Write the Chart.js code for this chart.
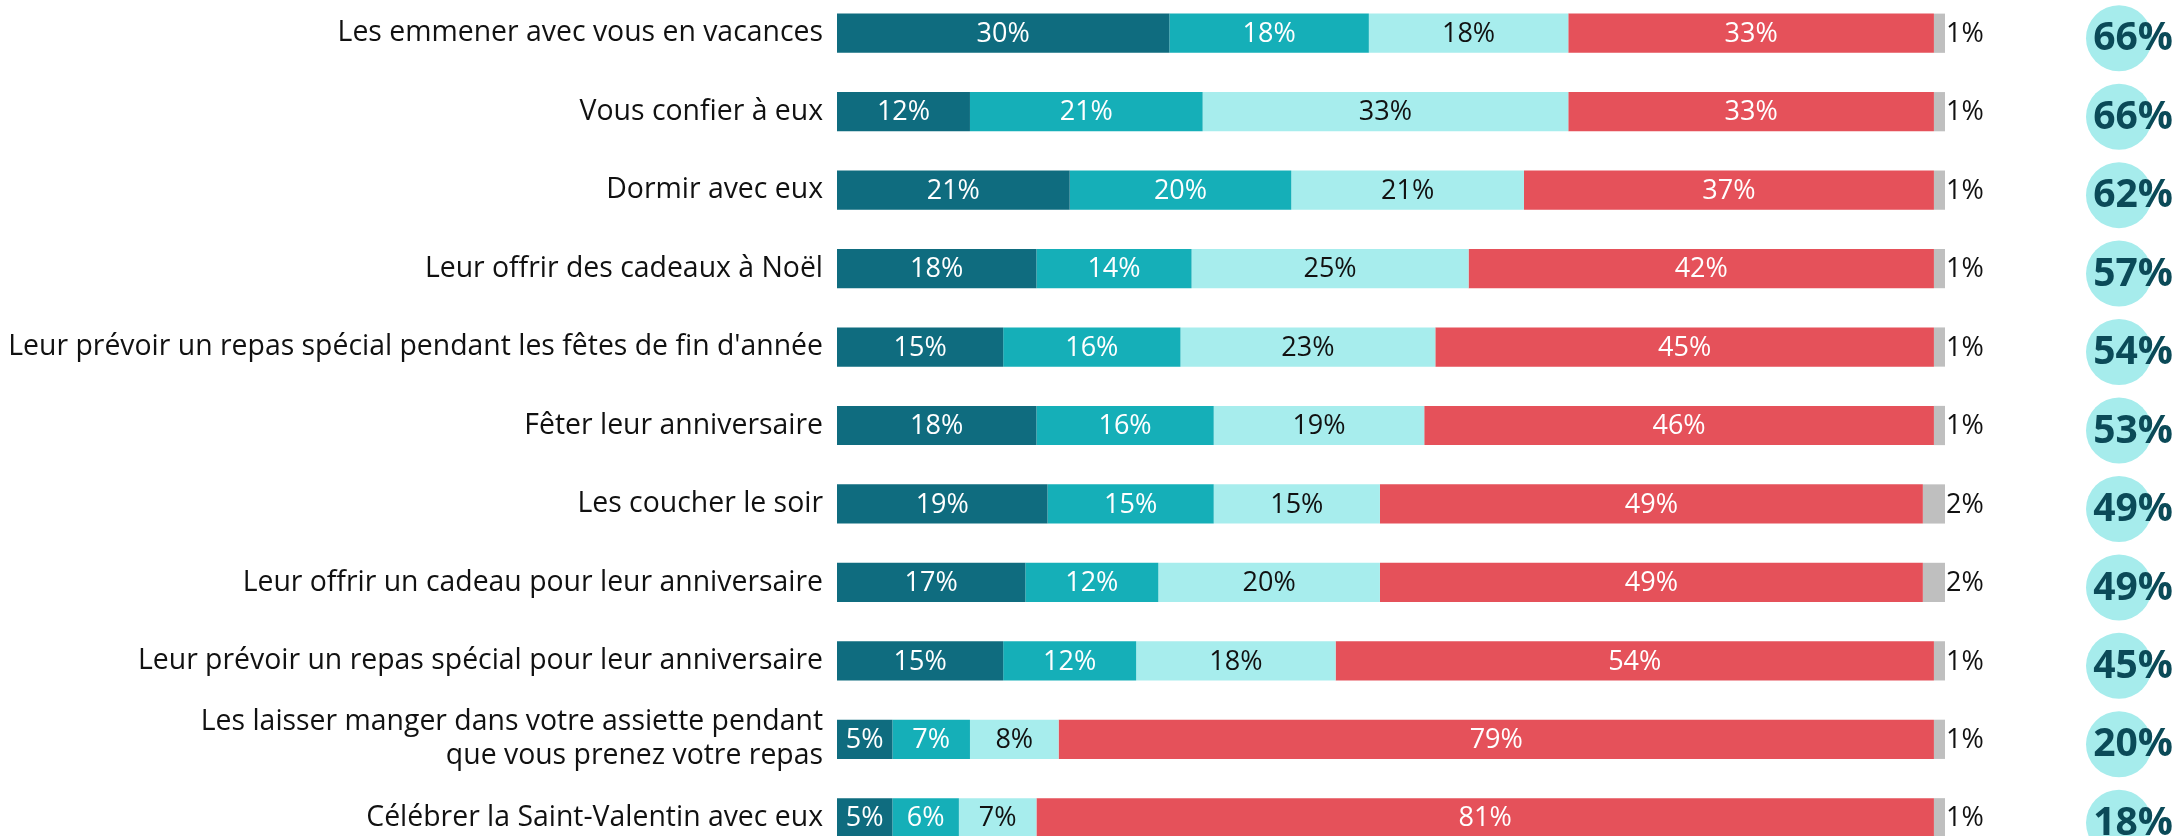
<!DOCTYPE html>
<html lang="fr">
<head>
<meta charset="utf-8">
<title>Animaux</title>
<script src="https://cdn.jsdelivr.net/npm/chart.js@4.4.1/dist/chart.umd.min.js"></script>
<style>
  html, body { margin: 0; padding: 0; background: #fff; overflow: hidden; }
  .wrap { position: absolute; left: 0; top: -6px; width: 2180px; height: 863px; }
</style>
</head>
<body>
<div class="wrap"><canvas id="canvas"></canvas></div>
<script>
// données
const categories = [
  "Les emmener avec vous en vacances",
  "Vous confier à eux",
  "Dormir avec eux",
  "Leur offrir des cadeaux à Noël",
  "Leur prévoir un repas spécial pendant les fêtes de fin d'année",
  "Fêter leur anniversaire",
  "Les coucher le soir",
  "Leur offrir un cadeau pour leur anniversaire",
  "Leur prévoir un repas spécial pour leur anniversaire",
  ["Les laisser manger dans votre assiette pendant", "que vous prenez votre repas"],
  "Célébrer la Saint-Valentin avec eux",
];
const souvent = [30, 12, 21, 18, 15, 18, 19, 17, 15, 5, 5];
const parfois = [18, 21, 20, 14, 16, 16, 15, 12, 12, 7, 6];
const rarement = [18, 33, 21, 25, 23, 19, 15, 20, 18, 8, 7];
const jamais = [33, 33, 37, 42, 45, 46, 49, 49, 54, 79, 81];
const nsp = [1, 1, 1, 1, 1, 1, 2, 2, 1, 1, 1];
const totalOui = [66, 66, 62, 57, 54, 53, 49, 49, 45, 20, 18];

const colors = ["#0f6c7f", "#15afb8", "#a7eded", "#e5515a", "#bfbfbf"];
const textColors = ["#fff", "#fff", "#111", "#fff", "#111"];

const FONT = "'Open Sans', sans-serif";

// étiquettes des valeurs + pastilles de total
const valueLabels = {
  id: "valueLabels",
  afterDatasetsDraw(chart) {
    const ctx = chart.ctx;
    ctx.save();
    ctx.font = "27px " + FONT;
    ctx.textBaseline = "middle";
    chart.data.datasets.forEach((ds, di) => {
      const meta = chart.getDatasetMeta(di);
      meta.data.forEach((bar, i) => {
        const v = ds.data[i] + "%";
        ctx.fillStyle = textColors[di];
        if (di === 4) {
          ctx.textAlign = "left";
          ctx.fillText(v, bar.x + 1, bar.y + 1);
        } else {
          ctx.textAlign = "center";
          ctx.fillText(v, (bar.base + bar.x) / 2, bar.y + 1);
        }
      });
    });

    const meta0 = chart.getDatasetMeta(0);
    const cx = chart.width - 61;
    meta0.data.forEach((bar, i) => {
      const cy = bar.y + 5;
      ctx.beginPath();
      ctx.arc(cx, cy, 33, 0, Math.PI * 2);
      ctx.fillStyle = "#a6ecec";
      ctx.fill();
      ctx.fillStyle = "#0b4a58";
      ctx.font = "bold 39px " + FONT;
      ctx.textAlign = "center";
      ctx.fillText(totalOui[i] + "%", cx + 14, cy + 1);
    });
    ctx.restore();
  },
};

const ctx = document.getElementById("canvas").getContext("2d");

const series = [souvent, parfois, rarement, jamais, nsp];
const names = ["Oui, souvent", "Oui, de temps en temps", "Oui, rarement", "Non, jamais", "NSP"];

const myChart = new Chart(ctx, {
  type: "bar",
  data: {
    labels: categories,
    datasets: series.map((s, i) => ({
      label: names[i],
      data: s,
      backgroundColor: colors[i],
      borderWidth: 0,
      barPercentage: 0.5,
      categoryPercentage: 1,
    })),
  },
  options: {
    indexAxis: "y",
    responsive: true,
    maintainAspectRatio: false,
    animation: false,
    layout: {
      padding: { top: 0, bottom: 0, left: 0, right: 235 },
    },
    plugins: {
      legend: { display: false },
      tooltip: { enabled: false },
    },
    scales: {
      x: {
        stacked: true,
        min: 0,
        max: 100,
        display: false,
      },
      y: {
        stacked: true,
        grid: { display: false, drawTicks: false },
        border: { display: false },
        afterFit: (scale) => {
          scale.width = 837;
          scale.paddingTop = 0;
          scale.paddingBottom = 0;
        },
        ticks: {
          color: "#111",
          padding: 14,
          font: { size: 28.4, family: FONT, lineHeight: 1.2 },
        },
      },
    },
  },
  plugins: [valueLabels],
});
</script>
</body>
</html>
